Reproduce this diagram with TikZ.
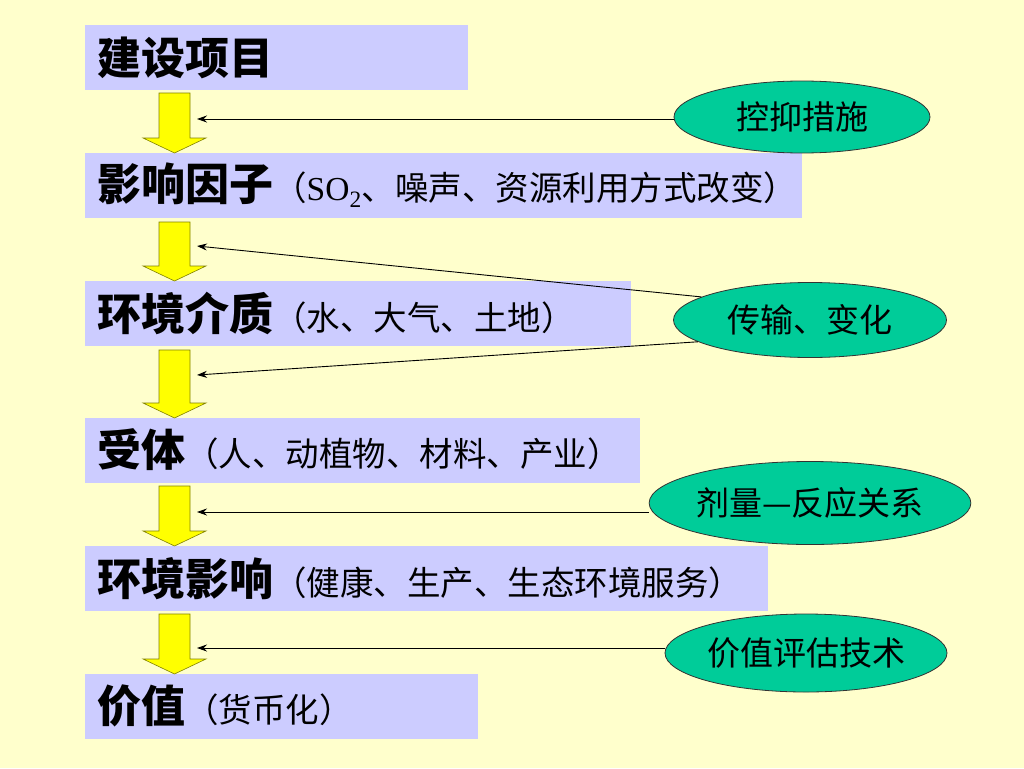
\documentclass[tikz,border=0pt]{standalone}
\usepackage{fontspec}
\newfontfamily\cjk{Noto Sans CJK SC}
\newfontfamily\latin{Liberation Serif}
\usetikzlibrary{shapes.geometric,arrows.meta}
\definecolor{paper}{HTML}{FFFFCC}
\definecolor{boxblue}{HTML}{CCCCFF}
\definecolor{ovalgreen}{HTML}{00CC99}
\definecolor{arrowyellow}{HTML}{FFFF00}
\definecolor{arrowedge}{HTML}{808000}
\newcommand\detail[1]{{\fontsize{33.5}{36}\selectfont\mdseries #1}}
\tikzset{
  stage/.style={anchor=west, fill=boxblue, minimum height=65pt, inner xsep=12pt,
    inner ysep=0pt, align=left, font=\cjk\fontsize{44}{48}\selectfont\bfseries},
  oval/.style={ellipse, draw=black!80, line width=0.8pt, fill=ovalgreen, inner sep=0pt,
    font=\cjk\fontsize{33}{36}\selectfont},
  link/.style={draw=black, line width=0.9pt, -{Stealth[length=10pt,width=7pt]}},
  downarrow/.style={fill=arrowyellow, draw=arrowedge, line width=0.6pt}
}
\begin{document}
\begin{tikzpicture}[x=1pt,y=-1pt]
    \fill[paper] (0,0) rectangle (1024,768);

    \node[stage, text width=359pt] (b1) at (85,57.5) {建设项目};
    \node[stage, text width=693pt] (b2) at (85,185.5) {影响因子\detail{（{\latin SO\textsubscript{2}}、噪声、资源利用方式改变）}};
    \node[stage, text width=522pt] (b3) at (85,313.5) {环境介质\detail{（水、大气、土地）}};
    \node[stage, text width=531pt] (b4) at (85,450) {受体\detail{（人、动植物、材料、产业）}};
    \node[stage, text width=659pt] (b5) at (85,578.5) {环境影响\detail{（健康、生产、生态环境服务）}};
    \node[stage, text width=369pt] (b6) at (85,706) {价值\detail{（货币化）}};

    \foreach \ya/\yb in {93/153,222/281,350/418,486/546,614/674}
      \filldraw[downarrow] (159,\ya) -- (190,\ya) -- (190,\yb-15) -- (206,\yb-15)
        -- (174.5,\yb) -- (143,\yb-15) -- (159,\yb-15) -- cycle;

    \node[oval, minimum width=256pt, minimum height=72pt] (e1) at (802,117) {控抑措施};
    \node[oval, minimum width=273pt, minimum height=75pt] (e2) at (810,320) {传输、变化};
    \node[oval, minimum width=292pt, minimum height=83pt] (e3) at (810,503) {剂量—反应关系};
    \node[oval, minimum width=282pt, minimum height=78pt] (e4) at (806,653) {价值评估技术};

    \coordinate (t1) at (197,119);
    \coordinate (t2) at (197,246);
    \coordinate (t3) at (197,375);
    \coordinate (t4) at (197,512);
    \coordinate (t5) at (197,648);

    \draw[link] (t1 -| e1.west) -- (t1);
    \draw[link] (e2.168) -- (t2);
    \draw[link] (e2.191) -- (t3);
    \draw[link] (t4 -| e3.west) -- (t4);
    \draw[link] (t5 -| e4.west) -- (t5);
  \end{tikzpicture}
\end{document}
